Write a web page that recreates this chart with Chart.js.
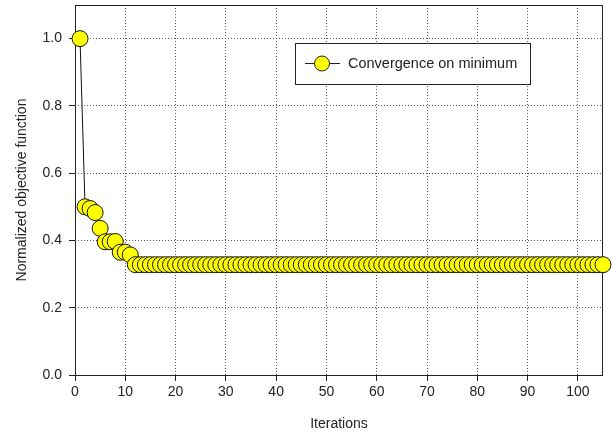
<!DOCTYPE html>
<html><head><meta charset="utf-8">
<script src="https://cdn.jsdelivr.net/npm/chart.js@4"></script>
<style>html,body{margin:0;padding:0;background:#fff}#wrap{width:612px;height:435px}</style>
</head><body><div id="wrap"><canvas id="c" width="612" height="435"></canvas></div>
<script>
const iterations = [
  1,2,3,4,5,6,7,8,9,10,
  11,12,13,14,15,16,17,18,19,20,
  21,22,23,24,25,26,27,28,29,30,
  31,32,33,34,35,36,37,38,39,40,
  41,42,43,44,45,46,47,48,49,50,
  51,52,53,54,55,56,57,58,59,60,
  61,62,63,64,65,66,67,68,69,70,
  71,72,73,74,75,76,77,78,79,80,
  81,82,83,84,85,86,87,88,89,90,
  91,92,93,94,95,96,97,98,99,100,
  101,102,103,104,105
];
const objective = [
  1.0,0.50,0.495,0.483,0.436,0.396,0.396,0.397,0.365,0.365,
  0.357,0.328,0.328,0.328,0.328,0.328,0.328,0.328,0.328,0.328,
  0.328,0.328,0.328,0.328,0.328,0.328,0.328,0.328,0.328,0.328,
  0.328,0.328,0.328,0.328,0.328,0.328,0.328,0.328,0.328,0.328,
  0.328,0.328,0.328,0.328,0.328,0.328,0.328,0.328,0.328,0.328,
  0.328,0.328,0.328,0.328,0.328,0.328,0.328,0.328,0.328,0.328,
  0.328,0.328,0.328,0.328,0.328,0.328,0.328,0.328,0.328,0.328,
  0.328,0.328,0.328,0.328,0.328,0.328,0.328,0.328,0.328,0.328,
  0.328,0.328,0.328,0.328,0.328,0.328,0.328,0.328,0.328,0.328,
  0.328,0.328,0.328,0.328,0.328,0.328,0.328,0.328,0.328,0.328,
  0.328,0.328,0.328,0.328,0.328
];
const xTickLabels = [0,10,20,30,40,50,60,70,80,90,100];
const yTickLabels = ['0.0','0.2','0.4','0.6','0.8','1.0'];
const seriesName = 'Convergence on minimum';
const xTitle = 'Iterations';
const yTitle = 'Normalized objective function';

const FONT = "'Liberation Sans', Arial, sans-serif";
const TXT = '#222';

const framePlugin = {
  id: 'frame',
  beforeDatasetsDraw(chart) {
    const {ctx, chartArea: a} = chart;
    ctx.save();
    ctx.strokeStyle = '#222';
    ctx.lineWidth = 1;
    const l = Math.round(a.left) + 0.5, r = Math.round(a.right) - 0.5;
    const t = Math.round(a.top) + 0.5, b = Math.round(a.bottom) + 0.5;
    ctx.strokeRect(l, t, r - l, b - t);
    ctx.restore();
  }
};

const legendPlugin = {
  id: 'boxLegend',
  afterDraw(chart) {
    const ctx = chart.ctx;
    ctx.save();
    ctx.fillStyle = '#fff';
    ctx.fillRect(295.5, 43.5, 235, 41);
    ctx.strokeStyle = '#222';
    ctx.lineWidth = 1;
    ctx.strokeRect(295.5, 43.5, 235, 41);
    ctx.beginPath();
    ctx.moveTo(305, 63.5);
    ctx.lineTo(340, 63.5);
    ctx.stroke();
    ctx.beginPath();
    ctx.arc(322, 63.5, 7.5, 0, Math.PI * 2);
    ctx.fillStyle = '#ffff00';
    ctx.fill();
    ctx.stroke();
    ctx.fillStyle = TXT;
    ctx.font = '14.5px ' + FONT;
    ctx.textBaseline = 'middle';
    ctx.textAlign = 'left';
    ctx.fillText(seriesName, 348, 64);
    ctx.restore();
  }
};

new Chart(document.getElementById('c'), {
  type: 'line',
  data: {
    datasets: [{
      label: seriesName,
      data: iterations.map((x, i) => ({x: x, y: objective[i]})),
      borderColor: '#111',
      borderWidth: 1,
      backgroundColor: '#ffff00',
      pointBackgroundColor: '#ffff00',
      pointBorderColor: '#111',
      pointBorderWidth: 1,
      pointRadius: 8,
      tension: 0,
      clip: false
    }]
  },
  options: {
    responsive: false,
    animation: false,
    events: [],
    layout: {autoPadding: false, padding: {top: 5, right: 9, left: 0, bottom: 0}},
    plugins: {legend: {display: false}, tooltip: {enabled: false}},
    scales: {
      x: {
        type: 'linear', min: 0, max: 105,
        afterFit(s) { s.height = 60; s.paddingLeft = 0; s.paddingRight = 0; },
        afterBuildTicks(s) { s.ticks = xTickLabels.map(v => ({value: v})); },
        ticks: {includeBounds: false, stepSize: 10, color: TXT, padding: 3,
                font: {family: FONT, size: 14}, maxRotation: 0, autoSkip: false,
                callback: v => String(v)},
        grid: {color: '#555', lineWidth: 1, tickLength: 6, tickColor: '#222',
               tickWidth: 1, tickBorderDash: []},
        border: {display: false, dash: [1, 2]},
        title: {display: true, text: xTitle, color: TXT,
                font: {family: FONT, size: 14}, padding: {top: 2, bottom: 2}}
      },
      y: {
        type: 'linear', min: 0, max: 1.1,
        afterFit(s) { s.width = 75; s.paddingTop = 0; s.paddingBottom = 0; },
        afterBuildTicks(s) { s.ticks = yTickLabels.map(v => ({value: parseFloat(v)})); },
        ticks: {includeBounds: false, stepSize: 0.2, color: TXT, padding: 7,
                font: {family: FONT, size: 14},
                callback: v => v.toFixed(1)},
        grid: {color: '#555', lineWidth: 1, tickLength: 6, tickColor: '#222',
               tickWidth: 1, tickBorderDash: []},
        border: {display: false, dash: [1, 2]},
        title: {display: true, text: yTitle, color: TXT,
                font: {family: FONT, size: 14}, padding: {top: 14, bottom: 2}}
      }
    }
  },
  plugins: [framePlugin, legendPlugin]
});
</script>
</body></html>
